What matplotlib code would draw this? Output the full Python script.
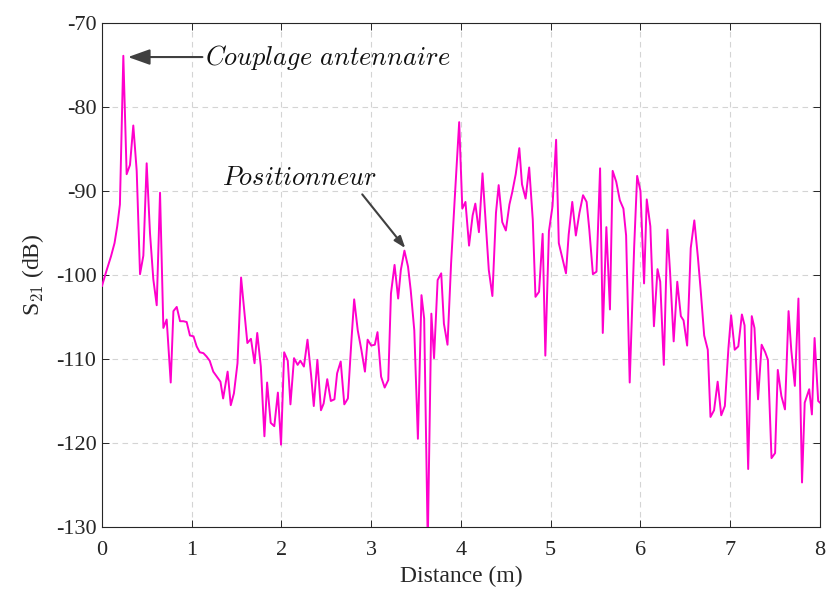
import numpy as np
import matplotlib
matplotlib.use("Agg")
import matplotlib.pyplot as plt

# --- DONNÉES ---
distance = [
    0.00, 0.05, 0.10, 0.14, 0.17, 0.20, 0.238, 0.275, 0.312, 0.349,
    0.387, 0.424, 0.461, 0.498, 0.535, 0.572, 0.61, 0.647, 0.684, 0.721,
    0.766, 0.796, 0.833, 0.87, 0.907, 0.944, 0.98, 1.02, 1.055, 1.09,
    1.13, 1.165, 1.20, 1.24, 1.28, 1.32, 1.35, 1.40, 1.435, 1.47,
    1.51, 1.55, 1.58, 1.62, 1.66, 1.70, 1.73, 1.77, 1.81, 1.84,
    1.88, 1.92, 1.96, 1.995, 2.03, 2.07, 2.10, 2.14, 2.18, 2.21,
    2.25, 2.29, 2.33, 2.36, 2.40, 2.44, 2.47, 2.51, 2.55, 2.59,
    2.62, 2.66, 2.70, 2.74, 2.78, 2.81, 2.85, 2.89, 2.93, 2.96,
    3.00, 3.04, 3.07, 3.11, 3.15, 3.19, 3.22, 3.26, 3.30, 3.33,
    3.37, 3.41, 3.44, 3.48, 3.52, 3.56, 3.59, 3.63, 3.67, 3.70,
    3.74, 3.78, 3.81, 3.85, 3.89, 3.93, 3.98, 4.015, 4.05, 4.09,
    4.13, 4.16, 4.20, 4.24, 4.27, 4.31, 4.35, 4.39, 4.42, 4.46,
    4.50, 4.54, 4.57, 4.61, 4.65, 4.68, 4.72, 4.76, 4.80, 4.83,
    4.87, 4.91, 4.94, 4.98, 5.02, 5.06, 5.09, 5.13, 5.17, 5.20,
    5.24, 5.28, 5.32, 5.36, 5.40, 5.43, 5.47, 5.51, 5.55, 5.58,
    5.62, 5.66, 5.69, 5.73, 5.77, 5.81, 5.84, 5.88, 5.93, 5.963,
    6.00, 6.04, 6.07, 6.11, 6.15, 6.19, 6.22, 6.26, 6.30, 6.33,
    6.37, 6.41, 6.45, 6.48, 6.52, 6.56, 6.60, 6.64, 6.67, 6.71,
    6.75, 6.78, 6.82, 6.86, 6.90, 6.94, 6.98, 7.01, 7.05, 7.09,
    7.13, 7.16, 7.20, 7.24, 7.27, 7.31, 7.35, 7.39, 7.42, 7.46,
    7.50, 7.53, 7.57, 7.61, 7.65, 7.68, 7.72, 7.76, 7.80, 7.83,
    7.88, 7.91, 7.94, 7.98, 8.00,
]
s21 = [
    -101.3, -99.5, -97.8, -96.2, -94.2, -91.6, -73.9, -88.0, -86.9, -82.2,
    -87.6, -99.9, -97.7, -86.7, -95.0, -100.5, -103.6, -90.2, -106.3, -105.3,
    -112.8, -104.3, -103.8, -105.5, -105.5, -105.6, -107.2, -107.3, -108.5, -109.2,
    -109.3, -109.7, -110.2, -111.5, -112.1, -112.7, -114.7, -111.5, -115.5, -114.1,
    -110.5, -100.3, -103.7, -108.1, -107.6, -110.5, -106.9, -110.9, -119.2, -112.8,
    -117.6, -118.0, -114.0, -120.2, -109.2, -110.2, -115.4, -109.9, -110.7, -110.2,
    -110.9, -107.7, -111.9, -115.6, -110.1, -116.1, -115.3, -112.4, -115.0, -114.8,
    -111.7, -110.3, -115.4, -114.7, -107.7, -102.9, -106.6, -108.9, -111.5, -107.7,
    -108.4, -108.3, -106.8, -112.1, -113.4, -112.5, -102.2, -98.8, -102.8, -99.4,
    -97.1, -99.0, -101.8, -106.6, -119.5, -102.4, -105.2, -132.0, -104.6, -109.9,
    -100.6, -99.8, -105.8, -108.3, -98.6, -91.0, -81.8, -92.1, -91.3, -96.5,
    -92.9, -91.5, -94.9, -87.9, -92.9, -99.4, -102.5, -92.6, -89.3, -93.7,
    -94.7, -91.6, -90.2, -88.0, -84.9, -89.2, -90.9, -87.2, -93.4, -102.6,
    -102.0, -95.1, -109.6, -94.8, -91.8, -83.9, -96.2, -98.0, -99.8, -95.2,
    -91.3, -95.3, -92.6, -90.5, -91.3, -94.6, -99.9, -99.6, -87.3, -106.9,
    -94.3, -104.1, -87.6, -88.9, -91.1, -92.1, -95.3, -112.8, -96.6, -88.2,
    -90.0, -101.0, -91.0, -94.2, -106.1, -99.3, -100.8, -110.7, -94.6, -99.7,
    -107.9, -100.8, -104.9, -105.4, -108.4, -96.8, -93.5, -97.9, -101.7, -107.2,
    -108.9, -116.9, -116.1, -112.7, -116.7, -115.6, -108.7, -104.8, -108.9, -108.5,
    -104.7, -106.0, -123.1, -104.9, -106.3, -114.8, -108.3, -109.2, -110.1, -121.8,
    -121.2, -111.3, -114.4, -116.0, -104.3, -108.9, -113.2, -102.8, -124.7, -115.2,
    -113.6, -116.6, -107.5, -115.0, -115.2,
]

plt.rcParams['font.family'] = 'Liberation Serif'
plt.rcParams['mathtext.fontset'] = 'cm'
plt.rcParams['axes.unicode_minus'] = False

fig = plt.figure(figsize=(8.27, 5.95), dpi=100)
ax = fig.add_axes([0.1233, 0.1143, 0.8682, 0.847])

ax.plot(distance, s21, color='#ff00cc', lw=1.4, zorder=3)

ax.set_xlim(0, 8)
ax.set_ylim(-130, -70)
ax.set_xticks(range(0, 9))
ax.set_yticks(range(-130, -69, 10))
ax.grid(True, ls=(0, (5, 4)), color='#d4d4d4', lw=0.8)
ax.tick_params(direction='in', top=True, right=True, labelsize=16,
               colors='#262626', length=5, width=0.7)
ax.tick_params(axis='x', pad=10)
ax.tick_params(axis='y', pad=4)
for sp in ax.spines.values():
    sp.set_color('#262626')
    sp.set_linewidth(0.8)

ax.set_xlabel('Distance (m)', fontsize=17, color='#262626', labelpad=4)
ax.set_ylabel(r'S$_{\mathrm{21}}$ (dB)', fontsize=17, color='#262626', labelpad=7)

# Annotations
arrow = dict(arrowstyle='-|>,head_length=0.7,head_width=0.25', color='#404040',
             lw=1.5, shrinkA=0, shrinkB=0)
ax.annotate(r'$Couplage\ antennaire$', xy=(0.29, -74.05), xytext=(1.15, -74.05),
            fontsize=19, va='center', ha='left', color='#111111', arrowprops=arrow)
ax.annotate('', xy=(3.38, -96.8), xytext=(2.9, -90.4), arrowprops=arrow)
ax.text(2.2, -88.5, r'$Positionneur$', fontsize=19, va='center', ha='center',
        color='#111111')

fig.savefig('out.png', dpi=100)
